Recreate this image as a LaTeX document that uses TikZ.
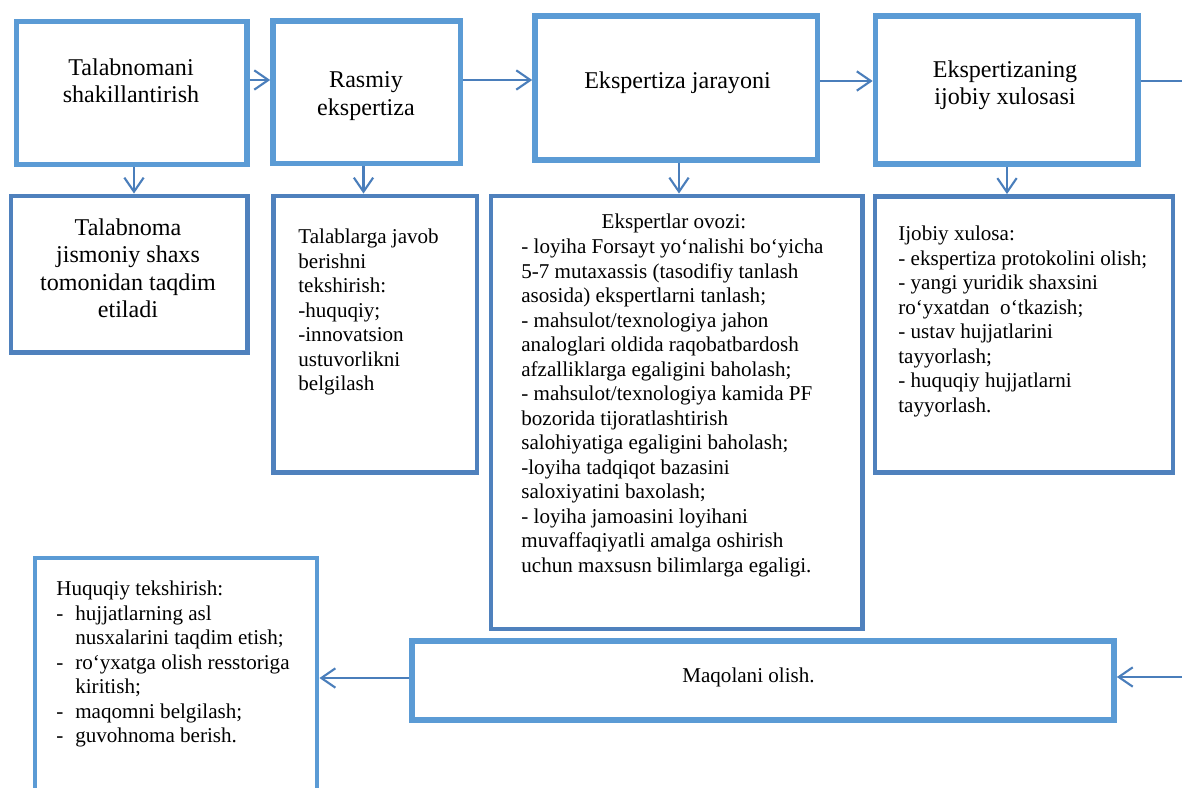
\documentclass[tikz,border=0pt]{standalone}
\usepackage{fontspec}
\setmainfont{Liberation Serif}
\usepackage{tikz}
\usetikzlibrary{
  arrows.meta,
  positioning,
  fit
}
\definecolor{ekLight}{HTML}{5B9BD5}
\definecolor{ekDark}{HTML}{4F81BD}
\definecolor{ekArrow}{HTML}{4A7EBB}
\newcommand{\itemdash}{\makebox[10.8pt][l]{-}}
\newcommand{\itemgap}{\hspace*{10.8pt}}
\tikzset{
  stagebox/.style={draw=ekLight, line width=3.2pt, inner sep=0pt},
  notebox/.style={draw=ekDark, line width=2.8pt, inner sep=0pt},
  lawbox/.style={draw=ekLight, line width=2.8pt, inner sep=0pt},
  bigtxt/.style={inner sep=0pt, anchor=north, align=center,
    font=\fontsize{13.7pt}{15.5pt}\selectfont},
  listtxt/.style={inner sep=0pt, anchor=north west, align=left,
    font=\fontsize{12pt}{13.95pt}\selectfont},
  midtxt/.style={listtxt, anchor=north, align=center},
  flow/.style={-{Straight Barb[length=8pt, width=11pt]}, line width=1.2pt, ekArrow},
  link/.style={line width=1.2pt, ekArrow}
}

\begin{document}
\begin{tikzpicture}[x=0.02cm, y=-0.02cm]
  \path[use as bounding box, fill=white] (0,0) rectangle (1182,787);
  \clip (0,0) rectangle (1182,787);

  % top row
  \node[stagebox, fit={(16.5,21.5) (247,164.5)}] (form) {};
  \node[stagebox, fit={(273,21) (460.5,163.5)}] (formal) {};
  \node[stagebox, fit={(535,16) (817.5,159.7)}] (process) {};
  \node[stagebox, fit={(875.5,16) (1138,164)}] (positive) {};
  \node[bigtxt] (formTxt) at (131,58.6) {Talabnomani\\shakillantirish};
  \node[bigtxt] (formalTxt) at (366,71.6) {Rasmiy\\ekspertiza};
  \node[bigtxt] (processTxt) at (677.5,71.6) {Ekspertiza jarayoni};
  \node[bigtxt] (positiveTxt) at (1005,60.6) {Ekspertizaning\\ijobiy xulosasi};

  % detail boxes
  \node[notebox, fit={(11,196) (247.5,352.5)}] (applied) {};
  \node[notebox, fit={(273.3,196) (477,472.5)}] (check) {};
  \node[notebox, fit={(491,196) (862.5,629)}] (votes) {};
  \node[notebox, fit={(875,196.5) (1173,472.5)}] (result) {};
  \node[bigtxt] (appliedTxt) at (128,218.6) {Talabnoma\\jismoniy shaxs\\tomonidan taqdim\\etiladi};
  \node[listtxt] (checkTxt) at (298,228.7) {Talablarga javob\\berishni\\tekshirish:\\-huquqiy;\\-innovatsion\\ustuvorlikni\\belgilash};
  \node[midtxt] (votesHead) at (674,213.7) {Ekspertlar ovozi:};
  \node[listtxt] (votesTxt) at (521,238.7) {- loyiha Forsayt yo‘nalishi bo‘yicha\\5-7 mutaxassis (tasodifiy tanlash\\asosida) ekspertlarni tanlash;\\- mahsulot/texnologiya jahon\\analoglari oldida raqobatbardosh\\afzalliklarga egaligini baholash;\\- mahsulot/texnologiya kamida PF\\bozorida tijoratlashtirish\\salohiyatiga egaligini baholash;\\-loyiha tadqiqot bazasini\\saloxiyatini baxolash;\\- loyiha jamoasini loyihani\\muvaffaqiyatli amalga oshirish\\uchun maxsusn bilimlarga egaligi.};
  \node[listtxt] (resultTxt) at (898,225.7) {Ijobiy xulosa:\\- ekspertiza protokolini olish;\\- yangi yuridik shaxsini\\ro‘yxatdan\ \ o‘tkazish;\\- ustav hujjatlarini\\tayyorlash;\\- huquqiy hujjatlarni\\tayyorlash.};

  % bottom row
  \node[stagebox, fit={(412,641) (1114,719.7)}] (article) {};
  \node[lawbox, fit={(35,558) (317,810)}] (legal) {};
  \node[midtxt] (articleTxt) at (748.5,667.7) {Maqolani olish.};
  \node[listtxt] (legalTxt) at (56,580.7) {Huquqiy tekshirish:\\\itemdash hujjatlarning asl\\\itemgap nusxalarini taqdim etish;\\\itemdash ro‘yxatga olish resstoriga\\\itemgap kiritish;\\\itemdash maqomni belgilash;\\\itemdash guvohnoma berish.};

  \coordinate (outR) at (1195,81);
  \coordinate (inR) at (1195,677);

  % connectors
  \draw[flow] (form.east |- 0,80) -- (formal.west |- 0,80);
  \draw[flow] (formal.east |- 0,80) -- (process.west |- 0,80);
  \draw[flow] (process.east |- 0,81) -- (positive.west |- 0,81);
  \draw[link] (positive.east |- 0,81) -- (outR);
  \draw[flow] (form.south -| 134,0) -- (applied.north -| 134,0);
  \draw[flow] (formal.south -| 363.5,0) -- (check.north -| 363.5,0);
  \draw[flow] (process.south -| 679,0) -- (votes.north -| 679,0);
  \draw[flow] (positive.south -| 1007,0) -- (result.north -| 1007,0);
  \draw[flow] (inR) -- (article.east |- 0,677);
  \draw[flow] (article.west |- 0,678) -- (legal.east |- 0,678);
\end{tikzpicture}
\end{document}
